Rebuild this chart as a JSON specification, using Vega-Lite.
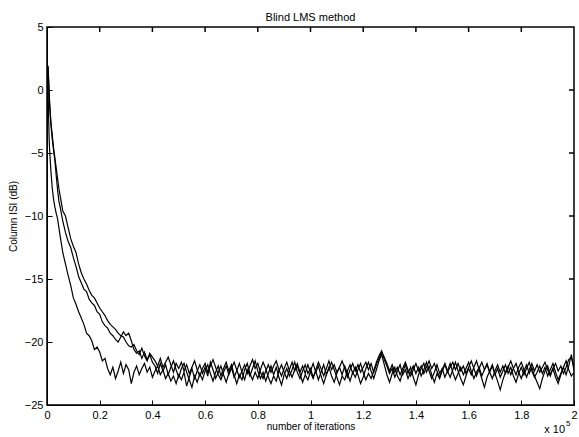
{
"$schema": "https://vega.github.io/schema/vega-lite/v6.json",
"width": 527, "height": 378,
"autosize": {"type": "none"},
"padding": {"left": 47, "top": 27, "right": 5, "bottom": 32},
"background": "white",
"title": {"text": "Blind LMS method", "fontSize": 11, "font": "Liberation Sans", "fontWeight": "normal", "color": "black", "anchor": "middle", "baseline": "bottom", "offset": -13},
"config": {"view": {"stroke": "black", "strokeWidth": 1.5}, "font": "Liberation Sans",
  "axis": {"grid": false, "domainColor": "black", "domainWidth": 1, "tickColor": "black", "tickWidth": 1, "tickSize": -5, "labelColor": "black", "labelFont": "Liberation Sans", "labelFontSize": 11, "titleFont": "Liberation Sans", "titleFontSize": 10, "titleFontWeight": "normal", "titleColor": "black"}},
"data": {"values": [
{"x":0,"a":0.5,"b":0.8,"c":1.2},
{"x":0.002,"a":2.0,"b":1.7,"c":1.9},
{"x":0.004,"a":0.3,"b":1.9,"c":1.6},
{"x":0.006,"a":-2.0,"b":1.0,"c":0.7},
{"x":0.008,"a":-3.8,"b":0.0,"c":-0.3},
{"x":0.01,"a":-4.8,"b":-1.0,"c":-1.2},
{"x":0.015,"a":-6.5,"b":-2.8,"c":-2.6},
{"x":0.02,"a":-7.8,"b":-3.9,"c":-3.6},
{"x":0.025,"a":-8.7,"b":-4.8,"c":-4.6},
{"x":0.03,"a":-9.3,"b":-5.6,"c":-5.4},
{"x":0.035,"a":-9.8,"b":-6.8,"c":-6.2},
{"x":0.04,"a":-10.2,"b":-7.9,"c":-7.0},
{"x":0.045,"a":-10.9,"b":-8.8,"c":-7.8},
{"x":0.05,"a":-11.6,"b":-9.3,"c":-8.4},
{"x":0.06,"a":-12.9,"b":-10.4,"c":-9.6},
{"x":0.07,"a":-13.8,"b":-11.3,"c":-10.0},
{"x":0.08,"a":-14.7,"b":-12.0,"c":-10.9},
{"x":0.09,"a":-15.5,"b":-12.5,"c":-11.8},
{"x":0.10,"a":-16.5,"b":-13.3,"c":-12.4},
{"x":0.11,"a":-17.0,"b":-14.0,"c":-12.9},
{"x":0.12,"a":-17.6,"b":-14.8,"c":-13.8},
{"x":0.13,"a":-18.1,"b":-15.3,"c":-14.5},
{"x":0.14,"a":-18.6,"b":-15.8,"c":-15.0},
{"x":0.15,"a":-19.3,"b":-16.0,"c":-15.4},
{"x":0.16,"a":-19.5,"b":-16.6,"c":-15.9},
{"x":0.17,"a":-19.9,"b":-16.9,"c":-16.3},
{"x":0.18,"a":-20.6,"b":-17.1,"c":-16.5},
{"x":0.19,"a":-20.4,"b":-17.6,"c":-16.9},
{"x":0.20,"a":-20.8,"b":-17.8,"c":-17.3},
{"x":0.21,"a":-21.5,"b":-18.4,"c":-17.6},
{"x":0.22,"a":-21.3,"b":-18.7,"c":-17.9},
{"x":0.23,"a":-22.1,"b":-18.9,"c":-18.3},
{"x":0.24,"a":-22.6,"b":-19.3,"c":-18.6},
{"x":0.25,"a":-22.0,"b":-19.5,"c":-18.8},
{"x":0.26,"a":-22.9,"b":-19.8,"c":-19.0},
{"x":0.27,"a":-22.3,"b":-20.0,"c":-19.3},
{"x":0.28,"a":-21.6,"b":-19.6,"c":-19.5},
{"x":0.29,"a":-22.5,"b":-19.2,"c":-19.6},
{"x":0.30,"a":-21.8,"b":-19.5,"c":-20.0},
{"x":0.31,"a":-22.2,"b":-19.3,"c":-20.3},
{"x":0.32,"a":-23.3,"b":-19.9,"c":-20.4},
{"x":0.33,"a":-22.4,"b":-20.6,"c":-20.2},
{"x":0.34,"a":-21.9,"b":-20.9,"c":-20.7},
{"x":0.35,"a":-22.6,"b":-20.7,"c":-21.0},
{"x":0.36,"a":-22.1,"b":-21.3,"c":-20.5},
{"x":0.37,"a":-21.7,"b":-20.8,"c":-21.1},
{"x":0.38,"a":-22.4,"b":-21.4,"c":-21.5},
{"x":0.39,"a":-22.0,"b":-21.0,"c":-20.9},
{"x":0.40,"a":-22.8,"b":-21.6,"c":-21.2},
{"x":0.41,"a":-22.3,"b":-21.9,"c":-21.5},
{"x":0.42,"a":-21.9,"b":-22.5,"c":-21.9},
{"x":0.43,"a":-22.6,"b":-21.7,"c":-21.3},
{"x":0.44,"a":-22.2,"b":-22.3,"c":-22.0},
{"x":0.45,"a":-22.9,"b":-21.8,"c":-21.6},
{"x":0.46,"a":-22.5,"b":-22.6,"c":-21.2},
{"x":0.47,"a":-23.1,"b":-22.0,"c":-21.8},
{"x":0.48,"a":-22.7,"b":-21.5,"c":-22.4},
{"x":0.49,"a":-23.3,"b":-22.2,"c":-21.7},
{"x":0.50,"a":-22.6,"b":-22.8,"c":-22.1},
{"x":0.51,"a":-23.0,"b":-22.1,"c":-21.6},
{"x":0.52,"a":-22.4,"b":-21.7,"c":-22.3},
{"x":0.53,"a":-23.5,"b":-22.4,"c":-21.8},
{"x":0.54,"a":-22.8,"b":-23.0,"c":-22.5},
{"x":0.55,"a":-22.1,"b":-23.6,"c":-22.0},
{"x":0.56,"a":-22.9,"b":-22.7,"c":-21.5},
{"x":0.57,"a":-22.3,"b":-23.2,"c":-22.2},
{"x":0.58,"a":-21.8,"b":-22.5,"c":-22.7},
{"x":0.59,"a":-22.5,"b":-23.0,"c":-22.1},
{"x":0.60,"a":-22.0,"b":-22.3,"c":-21.7},
{"x":0.61,"a":-22.7,"b":-21.8,"c":-22.4},
{"x":0.62,"a":-21.6,"b":-22.5,"c":-21.9},
{"x":0.63,"a":-22.2,"b":-23.1,"c":-21.4},
{"x":0.64,"a":-22.9,"b":-22.4,"c":-22.0},
{"x":0.65,"a":-22.4,"b":-21.9,"c":-22.6},
{"x":0.66,"a":-21.9,"b":-22.7,"c":-23.0},
{"x":0.67,"a":-22.6,"b":-22.1,"c":-22.4},
{"x":0.68,"a":-23.2,"b":-21.6,"c":-21.9},
{"x":0.69,"a":-22.5,"b":-22.3,"c":-22.6},
{"x":0.70,"a":-22.0,"b":-21.8,"c":-22.1},
{"x":0.71,"a":-22.8,"b":-22.6,"c":-21.6},
{"x":0.72,"a":-22.3,"b":-23.3,"c":-22.2},
{"x":0.73,"a":-21.7,"b":-22.6,"c":-22.8},
{"x":0.74,"a":-22.4,"b":-23.0,"c":-22.3},
{"x":0.75,"a":-23.0,"b":-22.2,"c":-21.8},
{"x":0.76,"a":-22.2,"b":-21.7,"c":-22.5},
{"x":0.77,"a":-22.7,"b":-22.5,"c":-21.9},
{"x":0.78,"a":-22.1,"b":-23.0,"c":-21.4},
{"x":0.79,"a":-21.5,"b":-22.4,"c":-22.1},
{"x":0.80,"a":-22.3,"b":-22.9,"c":-21.7},
{"x":0.81,"a":-22.9,"b":-22.2,"c":-22.4},
{"x":0.82,"a":-22.4,"b":-21.6,"c":-22.9},
{"x":0.83,"a":-23.1,"b":-22.1,"c":-22.3},
{"x":0.84,"a":-22.5,"b":-22.8,"c":-21.8},
{"x":0.85,"a":-21.9,"b":-23.3,"c":-22.4},
{"x":0.86,"a":-22.6,"b":-22.7,"c":-21.9},
{"x":0.87,"a":-22.0,"b":-23.1,"c":-21.5},
{"x":0.88,"a":-22.8,"b":-22.3,"c":-22.2},
{"x":0.89,"a":-23.4,"b":-21.8,"c":-22.7},
{"x":0.90,"a":-22.6,"b":-22.4,"c":-22.1},
{"x":0.91,"a":-22.1,"b":-22.9,"c":-21.6},
{"x":0.92,"a":-22.7,"b":-22.2,"c":-22.3},
{"x":0.93,"a":-22.2,"b":-21.6,"c":-22.8},
{"x":0.94,"a":-21.6,"b":-22.3,"c":-22.2},
{"x":0.95,"a":-22.4,"b":-21.9,"c":-21.7},
{"x":0.96,"a":-22.9,"b":-22.5,"c":-22.4},
{"x":0.97,"a":-22.3,"b":-23.2,"c":-21.9},
{"x":0.98,"a":-21.8,"b":-22.6,"c":-22.5},
{"x":0.99,"a":-22.5,"b":-23.0,"c":-21.8},
{"x":1.00,"a":-22.1,"b":-22.3,"c":-22.4},
{"x":1.01,"a":-22.8,"b":-21.7,"c":-22.9},
{"x":1.02,"a":-22.3,"b":-22.4,"c":-22.2},
{"x":1.03,"a":-23.0,"b":-21.9,"c":-21.6},
{"x":1.04,"a":-22.4,"b":-22.7,"c":-22.1},
{"x":1.05,"a":-21.8,"b":-23.3,"c":-22.7},
{"x":1.06,"a":-22.6,"b":-22.6,"c":-22.1},
{"x":1.07,"a":-22.0,"b":-22.1,"c":-21.5},
{"x":1.08,"a":-22.7,"b":-21.6,"c":-22.2},
{"x":1.09,"a":-23.2,"b":-22.2,"c":-21.8},
{"x":1.10,"a":-22.5,"b":-22.8,"c":-22.4},
{"x":1.11,"a":-22.0,"b":-23.4,"c":-22.0},
{"x":1.12,"a":-22.6,"b":-22.7,"c":-21.5},
{"x":1.13,"a":-21.9,"b":-23.0,"c":-22.1},
{"x":1.14,"a":-22.5,"b":-22.3,"c":-22.8},
{"x":1.15,"a":-23.1,"b":-21.8,"c":-22.2},
{"x":1.16,"a":-22.4,"b":-22.5,"c":-21.7},
{"x":1.17,"a":-22.8,"b":-22.0,"c":-22.3},
{"x":1.18,"a":-22.2,"b":-22.6,"c":-21.8},
{"x":1.19,"a":-21.7,"b":-23.3,"c":-22.4},
{"x":1.20,"a":-22.4,"b":-22.8,"c":-22.0},
{"x":1.21,"a":-23.0,"b":-22.1,"c":-21.6},
{"x":1.22,"a":-22.5,"b":-21.6,"c":-22.2},
{"x":1.23,"a":-22.9,"b":-22.3,"c":-21.7},
{"x":1.24,"a":-22.3,"b":-22.9,"c":-22.4},
{"x":1.25,"a":-21.6,"b":-22.2,"c":-21.8},
{"x":1.26,"a":-21.1,"b":-21.5,"c":-21.3},
{"x":1.27,"a":-20.7,"b":-21.0,"c":-20.8},
{"x":1.28,"a":-21.4,"b":-21.8,"c":-21.2},
{"x":1.29,"a":-21.9,"b":-22.6,"c":-21.7},
{"x":1.30,"a":-22.5,"b":-23.2,"c":-22.3},
{"x":1.31,"a":-22.1,"b":-22.5,"c":-21.8},
{"x":1.32,"a":-22.8,"b":-22.0,"c":-22.4},
{"x":1.33,"a":-22.3,"b":-22.7,"c":-22.0},
{"x":1.34,"a":-21.8,"b":-23.1,"c":-22.6},
{"x":1.35,"a":-22.6,"b":-22.4,"c":-22.1},
{"x":1.36,"a":-22.2,"b":-21.8,"c":-21.6},
{"x":1.37,"a":-22.9,"b":-22.5,"c":-22.2},
{"x":1.38,"a":-22.4,"b":-22.0,"c":-22.7},
{"x":1.39,"a":-21.9,"b":-22.8,"c":-22.2},
{"x":1.40,"a":-22.5,"b":-23.4,"c":-21.7},
{"x":1.41,"a":-22.0,"b":-22.6,"c":-22.3},
{"x":1.42,"a":-22.7,"b":-22.1,"c":-21.9},
{"x":1.43,"a":-22.2,"b":-21.7,"c":-22.5},
{"x":1.44,"a":-21.6,"b":-22.4,"c":-22.0},
{"x":1.45,"a":-22.3,"b":-21.9,"c":-21.5},
{"x":1.46,"a":-22.9,"b":-22.6,"c":-22.1},
{"x":1.47,"a":-22.4,"b":-23.2,"c":-21.7},
{"x":1.48,"a":-21.8,"b":-22.5,"c":-22.3},
{"x":1.49,"a":-22.5,"b":-22.9,"c":-22.8},
{"x":1.50,"a":-22.1,"b":-22.2,"c":-22.3},
{"x":1.51,"a":-22.8,"b":-21.7,"c":-21.8},
{"x":1.52,"a":-22.3,"b":-22.3,"c":-22.4},
{"x":1.53,"a":-21.7,"b":-22.8,"c":-22.0},
{"x":1.54,"a":-22.4,"b":-22.2,"c":-21.6},
{"x":1.55,"a":-23.0,"b":-21.6,"c":-22.2},
{"x":1.56,"a":-22.5,"b":-22.3,"c":-21.7},
{"x":1.57,"a":-22.0,"b":-22.9,"c":-22.3},
{"x":1.58,"a":-22.6,"b":-23.4,"c":-21.9},
{"x":1.59,"a":-22.1,"b":-22.7,"c":-22.5},
{"x":1.60,"a":-21.6,"b":-22.1,"c":-22.0},
{"x":1.61,"a":-22.3,"b":-22.6,"c":-21.5},
{"x":1.62,"a":-22.9,"b":-22.0,"c":-22.1},
{"x":1.63,"a":-22.4,"b":-21.5,"c":-22.7},
{"x":1.64,"a":-22.0,"b":-22.2,"c":-22.1},
{"x":1.65,"a":-22.7,"b":-22.9,"c":-21.6},
{"x":1.66,"a":-22.2,"b":-23.6,"c":-22.2},
{"x":1.67,"a":-21.7,"b":-22.8,"c":-21.8},
{"x":1.68,"a":-22.4,"b":-22.3,"c":-22.4},
{"x":1.69,"a":-21.9,"b":-21.8,"c":-22.9},
{"x":1.70,"a":-22.6,"b":-22.5,"c":-22.3},
{"x":1.71,"a":-22.1,"b":-23.1,"c":-21.8},
{"x":1.72,"a":-22.8,"b":-23.8,"c":-22.4},
{"x":1.73,"a":-22.3,"b":-23.0,"c":-21.9},
{"x":1.74,"a":-21.8,"b":-22.4,"c":-22.5},
{"x":1.75,"a":-22.5,"b":-21.9,"c":-22.0},
{"x":1.76,"a":-22.0,"b":-22.6,"c":-21.5},
{"x":1.77,"a":-22.7,"b":-22.1,"c":-22.1},
{"x":1.78,"a":-23.2,"b":-21.7,"c":-22.6},
{"x":1.79,"a":-22.5,"b":-22.4,"c":-22.0},
{"x":1.80,"a":-22.0,"b":-22.9,"c":-21.6},
{"x":1.81,"a":-22.6,"b":-22.3,"c":-22.2},
{"x":1.82,"a":-22.1,"b":-21.8,"c":-22.8},
{"x":1.83,"a":-21.6,"b":-22.5,"c":-22.2},
{"x":1.84,"a":-22.3,"b":-22.0,"c":-21.7},
{"x":1.85,"a":-22.8,"b":-22.7,"c":-22.3},
{"x":1.86,"a":-22.4,"b":-23.2,"c":-21.8},
{"x":1.87,"a":-21.9,"b":-23.7,"c":-22.4},
{"x":1.88,"a":-22.5,"b":-22.9,"c":-22.0},
{"x":1.89,"a":-22.0,"b":-22.3,"c":-21.6},
{"x":1.90,"a":-22.7,"b":-21.9,"c":-22.2},
{"x":1.91,"a":-22.2,"b":-22.6,"c":-22.7},
{"x":1.92,"a":-21.7,"b":-22.1,"c":-22.1},
{"x":1.93,"a":-22.4,"b":-22.8,"c":-21.7},
{"x":1.94,"a":-23.0,"b":-23.3,"c":-22.3},
{"x":1.95,"a":-22.5,"b":-22.6,"c":-21.9},
{"x":1.96,"a":-22.0,"b":-22.0,"c":-22.5},
{"x":1.97,"a":-22.6,"b":-21.5,"c":-22.0},
{"x":1.98,"a":-21.9,"b":-22.2,"c":-21.4},
{"x":1.99,"a":-21.0,"b":-22.7,"c":-21.2},
{"x":2.00,"a":-22.3,"b":-22.4,"c":-22.0}
]},
"layer": [
  {"transform": [{"fold": ["a", "b", "c"], "as": ["series", "y"]}],
   "mark": {"type": "line", "color": "black", "strokeWidth": 1.2, "clip": true},
   "encoding": {
     "x": {"field": "x", "type": "quantitative", "scale": {"domain": [0, 2], "nice": false, "zero": false},
           "axis": {"orient": "bottom", "values": [0, 0.2, 0.4, 0.6, 0.8, 1, 1.2, 1.4, 1.6, 1.8, 2], "format": "~g", "labelPadding": 9, "title": "number of iterations", "titlePadding": 1, "labelFlush": false, "labelOverlap": false}},
     "y": {"field": "y", "type": "quantitative", "scale": {"domain": [-25, 5], "nice": false, "zero": false},
           "axis": {"orient": "left", "values": [-25, -20, -15, -10, -5, 0, 5], "labelPadding": 9, "title": "Column ISI (dB)", "titlePadding": 6, "labelFlush": false, "labelOverlap": false}},
     "detail": {"field": "series"}
   }},
  {"data": {"values": [{"t":0.2},{"t":0.4},{"t":0.6},{"t":0.8},{"t":1},{"t":1.2},{"t":1.4},{"t":1.6},{"t":1.8}]},
   "mark": {"type": "rule", "color": "black", "strokeWidth": 1.5},
   "encoding": {"x": {"field": "t", "type": "quantitative"}, "y": {"datum": 5, "type": "quantitative"}, "y2": {"datum": 4.6}}},
  {"data": {"values": [{"t":-20},{"t":-15},{"t":-10},{"t":-5},{"t":0}]},
   "mark": {"type": "rule", "color": "black", "strokeWidth": 1.5},
   "encoding": {"y": {"field": "t", "type": "quantitative"}, "x": {"datum": 2, "type": "quantitative"}, "x2": {"datum": 1.981}}},
  {"data": {"values": [{"t": "x 10"}]},
   "mark": {"type": "text", "align": "right", "baseline": "middle", "dx": -9, "dy": 25, "fontSize": 11, "font": "Liberation Sans", "color": "black"},
   "encoding": {"x": {"datum": 2, "type": "quantitative"}, "y": {"datum": -25, "type": "quantitative"}, "text": {"field": "t"}}},
  {"data": {"values": [{"t": "5"}]},
   "mark": {"type": "text", "align": "left", "baseline": "middle", "dx": -8, "dy": 19, "fontSize": 8, "font": "Liberation Sans", "color": "black"},
   "encoding": {"x": {"datum": 2, "type": "quantitative"}, "y": {"datum": -25, "type": "quantitative"}, "text": {"field": "t"}}}
]
}
